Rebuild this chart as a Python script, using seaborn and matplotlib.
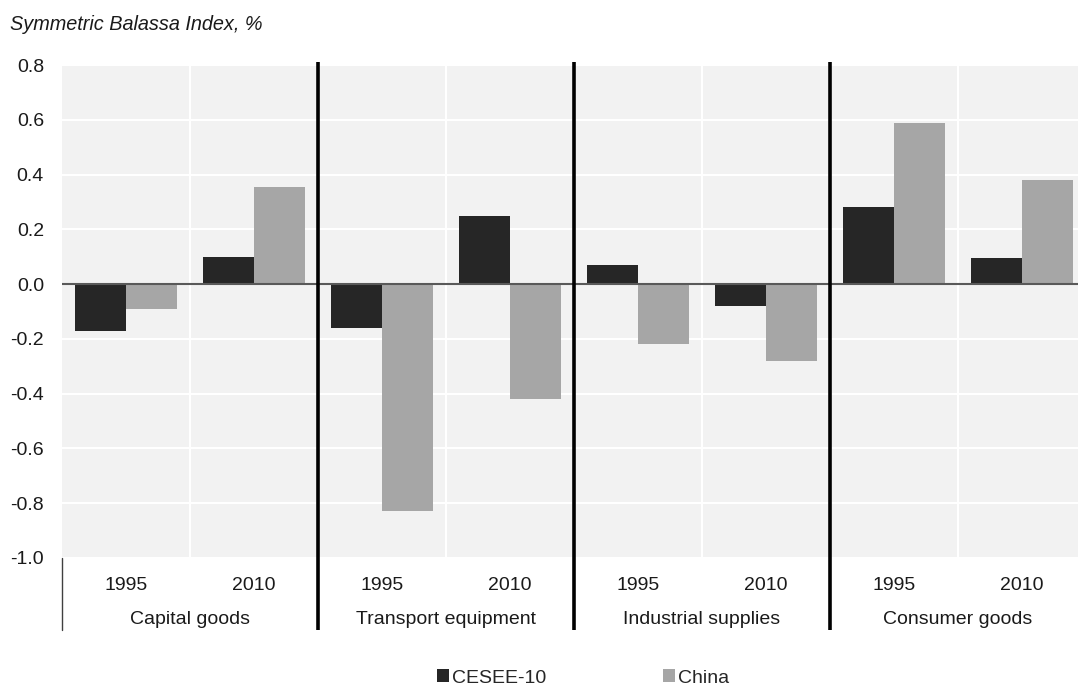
import matplotlib
matplotlib.use("Agg")
import matplotlib.pyplot as plt
import matplotlib.transforms as mtransforms
import seaborn as sns
import pandas as pd

# ---- data ----
categories = ["Capital goods", "Transport equipment", "Industrial supplies", "Consumer goods"]
years = ["1995", "2010"]
series_names = ["CESEE-10", "China"]
cesee_values = [-0.17, 0.10, -0.16, 0.25, 0.07, -0.08, 0.28, 0.095]
china_values = [-0.09, 0.355, -0.83, -0.42, -0.22, -0.28, 0.59, 0.38]
y_ticks = [0.8, 0.6, 0.4, 0.2, 0.0, -0.2, -0.4, -0.6, -0.8, -1.0]
y_tick_labels = ["0.8", "0.6", "0.4", "0.2", "0.0", "-0.2", "-0.4", "-0.6", "-0.8", "-1.0"]
title = "Symmetric Balassa Index, %"

rows = []
slots = []
for ci, cat in enumerate(categories):
    for yi, yr in enumerate(years):
        slot = f"{cat}|{yr}"
        slots.append(slot)
        k = ci * 2 + yi
        rows.append({"slot": slot, "series": series_names[0], "value": cesee_values[k]})
        rows.append({"slot": slot, "series": series_names[1], "value": china_values[k]})
df = pd.DataFrame(rows)

sns.set_theme(style="white")
plt.rcParams["font.family"] = ["Liberation Sans", "DejaVu Sans"]

W, H = 1078, 686
fig = plt.figure(figsize=(W / 100, H / 100), dpi=100)
ax_left = 62 / W
ax_bottom = (H - 558) / H
ax_top = (H - 65) / H
ax = fig.add_axes([ax_left, ax_bottom, 1.0 - ax_left, ax_top - ax_bottom])
ax.set_facecolor("#f2f2f2")

sns.barplot(data=df, x="slot", y="value", hue="series", order=slots,
            hue_order=series_names, palette=["#262626", "#a6a6a6"],
            width=0.8, saturation=1, dodge=True, linewidth=0, ax=ax, legend=True)

ax.set_ylim(-1.0, 0.8)
ax.set_xlim(-0.5, 7.5 - 8 / 128)
ax.set_yticks(y_ticks)
ax.set_yticklabels(y_tick_labels, fontsize=14, color="#1a1a1a")
ax.set_xticks(range(len(slots)))
ax.set_xticklabels([s.split("|")[1] for s in slots], fontsize=14, color="#1a1a1a")
ax.tick_params(axis="y", length=0, pad=13)
ax.tick_params(axis="x", length=0, pad=13.5)
ax.set_xlabel("")
ax.set_ylabel("")
for sp in ax.spines.values():
    sp.set_visible(False)

# white grid
ax.set_axisbelow(True)
for yv in y_ticks:
    ax.axhline(yv, color="white", lw=1.5, zorder=0.5)
for xv in [0.5, 2.5, 4.5, 6.5]:
    ax.axvline(xv, color="white", lw=1.5, zorder=0.5)

# zero line
ax.axhline(0, color="#595959", lw=1.5, zorder=3)

trans = mtransforms.blended_transform_factory(ax.transData, ax.transAxes)
# black group separators
for xv in [1.5, 3.5, 5.5]:
    ax.plot([xv, xv], [1.007, -0.146], color="black", lw=2.6, transform=trans,
            clip_on=False, zorder=5, solid_capstyle="butt")
# thin left line below axis
ax.plot([-0.5, -0.5], [0.0, -0.146], color="#404040", lw=1.0, transform=trans,
        clip_on=False, zorder=5)

# category labels
for ci, cat in enumerate(categories):
    ax.text(ci * 2 + 0.5, -0.124, cat, transform=trans, ha="center", va="center",
            fontsize=14, color="#1a1a1a")

# legend
leg = ax.get_legend()
handles = leg.legend_handles
leg.remove()
fig.legend(handles, series_names, loc="center", bbox_to_anchor=(0.541, 1 - 678 / H),
           ncol=2, frameon=False, fontsize=14, handlelength=0.62, handleheight=0.62,
           handletextpad=0.15, columnspacing=6.0)

fig.text(10 / W, 1 - 25 / H, title, ha="left", va="center", fontsize=14.3,
         style="italic", color="#1a1a1a")

fig.savefig("out.png", dpi=100)
